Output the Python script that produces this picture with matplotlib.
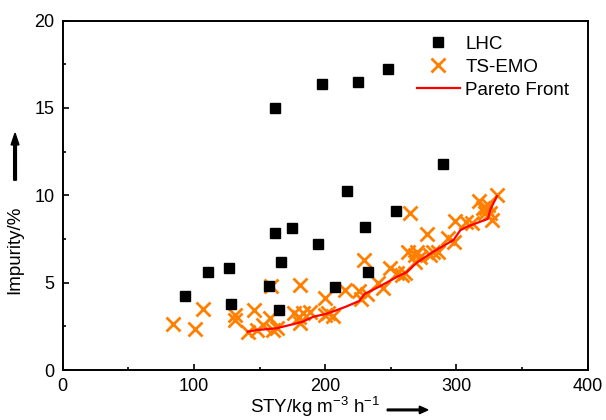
import matplotlib
matplotlib.use('Agg')
import matplotlib.pyplot as plt

plt.rcParams['font.family'] = ['Liberation Sans', 'DejaVu Sans']
plt.rcParams['mathtext.fontset'] = 'custom'
plt.rcParams['mathtext.rm'] = 'Liberation Sans'
plt.rcParams['mathtext.it'] = 'Liberation Sans'

# LHC samples (STY, impurity)
lhc_sty = [93, 110.5, 126.5, 128, 157.5, 162, 162, 164.5, 166, 174.5,
           194.5, 198, 207.5, 216.5, 225, 230.5, 233, 248, 254, 289.5]
lhc_imp = [4.24, 5.63, 5.82, 3.78, 4.81, 15.0, 7.87, 3.44, 6.20, 8.15,
           7.21, 16.36, 4.77, 10.27, 16.5, 8.19, 5.61, 17.22, 9.12, 11.80]

# TS-EMO samples
ts_sty = [84, 101, 107, 131, 131, 141, 146, 148, 153, 158, 158.5, 163, 160,
          176, 180, 181, 181, 183, 188.5, 200, 200, 202.5, 206, 215, 225.5,
          227, 230, 231.7, 240.5, 244, 249.5, 254.6, 258.5, 261, 263.5, 265,
          268.5, 268.5, 270, 272, 277.5, 280, 282.5, 286, 293.5, 298, 299,
          307, 312, 317, 320.6, 323, 324.4, 322, 325.7, 327, 330.8]
ts_imp = [2.65, 2.37, 3.5, 3.15, 2.86, 2.19, 3.44, 2.29, 2.58, 2.96, 4.8, 2.39, 2.29,
          3.25, 3.05, 2.67, 4.87, 3.25, 3.3, 4.11, 3.15, 3.25, 3.09, 4.6, 4.55,
          4.05, 6.3, 4.35, 5.0, 4.7, 5.82, 5.54, 5.45, 5.54, 6.78, 8.97,
          6.59, 6.2, 6.78, 6.49, 7.78, 6.6, 6.78, 6.78, 7.54, 7.3, 8.53,
          8.45, 8.4, 9.7, 9.3, 9.26, 9.45, 8.97, 8.97, 8.6, 10.0]

# Pareto front
pf_sty = [141, 148, 163, 176, 183, 191, 200, 206, 215, 226, 230, 242, 254,
          262, 270, 282, 298, 303, 308, 324, 326, 331]
pf_imp = [2.19, 2.29, 2.39, 2.63, 2.77, 3.05, 3.2, 3.35, 3.6, 3.95, 4.35, 4.8, 5.3,
          5.6, 6.15, 6.75, 7.45, 8.0, 8.2, 8.65, 9.2, 9.95]

orange = '#FF8000'

fig = plt.figure(figsize=(6.06, 4.20), dpi=100)
ax = fig.add_axes([0.1035, 0.119, 0.866, 0.832])

ax.plot(lhc_sty, lhc_imp, 's', color='black', markersize=6.5, label='LHC', zorder=3)
ax.plot(ts_sty, ts_imp, 'x', color=orange, markersize=9.5, markeredgewidth=2,
        label='TS-EMO', zorder=2)
ax.plot(pf_sty, pf_imp, '-', color='#FF0000', linewidth=1.6, label='Pareto Front', zorder=4)

ax.set_xlim(0, 400)
ax.set_ylim(0, 20)
ax.set_xticks([0, 100, 200, 300, 400])
ax.set_yticks([0, 5, 10, 15, 20])
ax.set_xticks([50, 150, 250, 350], minor=True)
ax.set_yticks([2.5, 7.5, 12.5, 17.5], minor=True)
ax.tick_params(which='both', direction='in', top=False, right=False, labelsize=13)
ax.tick_params(which='major', length=4, width=1.2, pad=6)
ax.tick_params(which='minor', length=2.5, width=1.2)
for s in ax.spines.values():
    s.set_linewidth(1.4)

ax.legend(loc='upper left', bbox_to_anchor=(0.6745, 0.957), frameon=False,
          fontsize=13.5, borderpad=0, borderaxespad=0, handlelength=2.3,
          handletextpad=0.3, labelspacing=0.32)

# axis labels with arrows
fig.text(0.52, 0.03, 'STY/kg m$^{-3}$ h$^{-1}$', ha='center', va='center', fontsize=13.5)
fig.text(0.0248, 0.405, 'Impurity/%', ha='center', va='center', rotation=90, fontsize=13.5)
fig.patches.append(matplotlib.patches.FancyArrow(
    0.639, 0.024, 0.067, 0, width=0.004, head_width=0.018, head_length=0.014,
    length_includes_head=True, color='black', transform=fig.transFigure, figure=fig))
fig.patches.append(matplotlib.patches.FancyArrow(
    0.0248, 0.571, 0, 0.112, width=0.0045, head_width=0.013, head_length=0.028,
    length_includes_head=True, color='black', transform=fig.transFigure, figure=fig))

fig.savefig('out.png', dpi=100)
